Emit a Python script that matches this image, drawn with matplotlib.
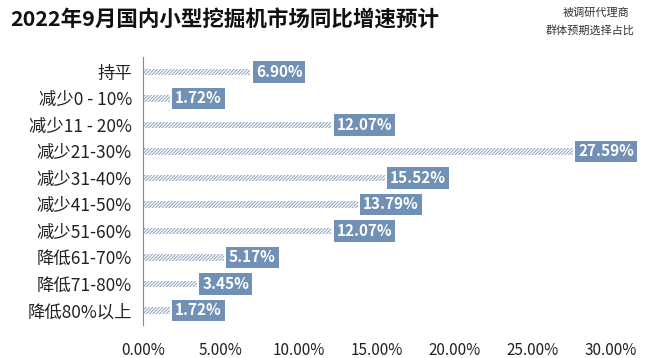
import matplotlib.pyplot as plt

plt.rcParams['font.family'] = ['Noto Sans CJK SC', 'DejaVu Sans']
plt.rcParams['hatch.linewidth'] = 0.7

kategoriler = ['持平', '减少0 - 10%', '减少11 - 20%', '减少21-30%', '减少31-40%',
               '减少41-50%', '减少51-60%', '降低61-70%', '降低71-80%', '降低80%以上']
oranlar = [6.90, 1.72, 12.07, 27.59, 15.52, 13.79, 12.07, 5.17, 3.45, 1.72]
xticks = [0, 5, 10, 15, 20, 25, 30]

fig = plt.figure(figsize=(6.59, 3.58), dpi=100)
ax = fig.add_axes([0.217, 0.092, 0.709, 0.748])

y = list(range(len(kategoriler)))
ax.barh(y, oranlar, height=0.25, color='white', edgecolor='#8aa0be', hatch='//////////', linewidth=0)

for yi, v in zip(y, oranlar):
    ax.text(v + 0.35, yi, f'{v:.2f}%', va='center', ha='left', color='white',
            fontsize=11, fontweight='bold',
            bbox=dict(boxstyle='square,pad=0.18', fc='#7090b6', ec='none'))

ax.set_yticks(y)
ax.set_yticklabels(kategoriler, fontsize=12.5, color='#222222')
ax.invert_yaxis()
ax.set_ylim(9.55, -0.55)
ax.set_xlim(0, 30)
ax.set_xticks(xticks)
ax.set_xticklabels([f'{t:.2f}%' for t in xticks], fontsize=11, color='#222222')
ax.tick_params(length=0)
ax.tick_params(axis='x', pad=12)
ax.tick_params(axis='y', pad=8)
for s in ['top', 'right', 'bottom']:
    ax.spines[s].set_visible(False)
ax.spines['left'].set_color('#6f8fb5')
ax.spines['left'].set_linewidth(0.8)

fig.text(0.015, 0.945, '2022年9月国内小型挖掘机市场同比增速预计', fontsize=15.5,
         fontweight='bold', color='#111111', va='center', ha='left')
fig.text(0.905, 0.965, '被调研代理商', fontsize=8, color='#333333', va='center', ha='center')
fig.text(0.895, 0.915, '群体预期选择占比', fontsize=8, color='#333333', va='center', ha='center')

fig.savefig('out.png', dpi=100)
